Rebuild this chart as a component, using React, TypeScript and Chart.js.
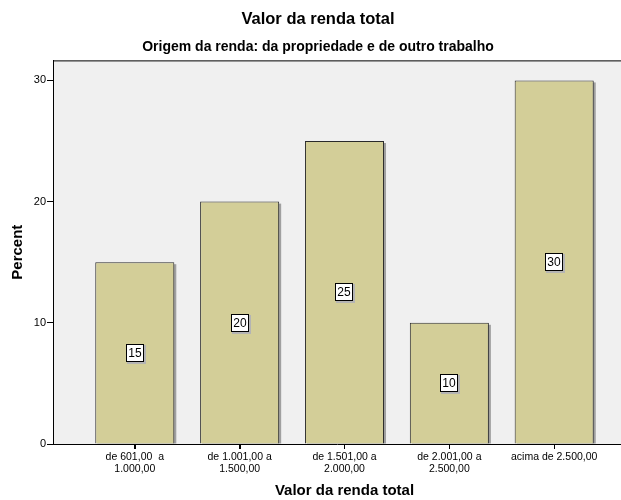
import React, { useEffect, useRef } from 'react';
import { Chart, registerables } from 'chart.js';

Chart.register(...registerables);

// Income brackets (two-line tick labels) and the share of respondents in each
const categories = [
  'de 601,00  a\n1.000,00',
  'de 1.001,00 a\n1.500,00',
  'de 1.501,00 a\n2.000,00',
  'de 2.001,00 a\n2.500,00',
  'acima de 2.500,00',
];
const percents = [15, 20, 25, 10, 30];
const yTicks = [0, 10, 20, 30];

const chartTitle = 'Valor da renda total';
const chartSubtitle = 'Origem da renda: da propriedade e de outro trabalho';
const xTitle = 'Valor da renda total';
const yTitle = 'Percent';

const FONT = "'Liberation Sans', Arial, Helvetica, sans-serif";
const BAR_FILL = '#d3ce98';
const BAR_EDGE = '#2a2a2a';
const PLOT_BG = '#f0f0f0';

// Grey plot background with a frame along the top edge
const plotFrame = {
  id: 'plotFrame',
  beforeDraw(chart: any) {
    const { ctx, chartArea: a } = chart;
    ctx.save();
    ctx.fillStyle = PLOT_BG;
    ctx.fillRect(a.left, a.top, a.right - a.left, a.bottom - a.top);
    ctx.strokeStyle = '#000';
    ctx.lineWidth = 1;
    ctx.beginPath();
    ctx.moveTo(a.left, a.top + 0.5);
    ctx.lineTo(a.right, a.top + 0.5);
    ctx.stroke();
    ctx.restore();
  },
};

// Soft drop shadow to the right of each bar
const barShadow = {
  id: 'barShadow',
  beforeDatasetsDraw(chart: any) {
    const { ctx } = chart;
    const meta = chart.getDatasetMeta(0);
    ctx.save();
    ctx.fillStyle = '#a0a0a0';
    meta.data.forEach((el: any) => {
      const { x, y, base, width } = el.getProps(['x', 'y', 'base', 'width'], true);
      const left = x - width / 2;
      ctx.fillRect(left + 2, y + 2, width, base - y - 2);
    });
    ctx.restore();
  },
};

// Category tick marks under the axis and the axis title centred on the category span
const xAxisDecor = {
  id: 'xAxisDecor',
  afterDraw(chart: any) {
    const { ctx } = chart;
    const xs = chart.scales.x;
    const a = chart.chartArea;
    ctx.save();
    ctx.strokeStyle = '#000';
    ctx.lineWidth = 1;
    ctx.beginPath();
    xs.ticks.forEach((t: any) => {
      const px = Math.round(xs.getPixelForValue(t.value)) + 0.5;
      ctx.moveTo(px, a.bottom);
      ctx.lineTo(px, a.bottom + 5);
    });
    ctx.stroke();
    ctx.font = `bold 15px ${FONT}`;
    ctx.fillStyle = '#000';
    ctx.textAlign = 'center';
    ctx.textBaseline = 'middle';
    const mid = xs.getPixelForValue((categories.length + 1) / 2);
    ctx.fillText(xTitle, mid, 491);
    ctx.restore();
  },
};

// Boxed value labels placed at half the bar height
const valueLabels = {
  id: 'valueLabels',
  afterDatasetsDraw(chart: any) {
    const { ctx } = chart;
    const yScale = chart.scales.y;
    const meta = chart.getDatasetMeta(0);
    ctx.save();
    ctx.font = `12px ${FONT}`;
    ctx.textAlign = 'center';
    ctx.textBaseline = 'middle';
    meta.data.forEach((el: any, i: number) => {
      const v = percents[i];
      const text = String(v);
      const cx = Math.round(el.x);
      const cy = Math.round(yScale.getPixelForValue(v / 2));
      const w = Math.round(ctx.measureText(text).width + 5);
      const h = 18;
      const left = cx - Math.round(w / 2);
      const top = cy - Math.round(h / 2);
      ctx.fillStyle = '#b4b4b4';
      ctx.fillRect(left + 1, top + 1, w + 1, h + 1);
      ctx.fillStyle = '#fff';
      ctx.fillRect(left, top, w, h);
      ctx.strokeStyle = '#000';
      ctx.lineWidth = 1;
      ctx.strokeRect(left + 0.5, top + 0.5, w - 1, h - 1);
      ctx.fillStyle = '#000';
      ctx.fillText(text, cx, cy + 1);
    });
    ctx.restore();
  },
};

export default function App() {
  const canvasRef = useRef<HTMLCanvasElement | null>(null);

  useEffect(() => {
    const canvas = canvasRef.current;
    if (!canvas) return;
    const chart = new Chart(canvas, {
      type: 'bar',
      data: {
        datasets: [
          {
            data: percents.map((v, i) => ({ x: i + 1, y: v })),
            backgroundColor: BAR_FILL,
            borderColor: BAR_EDGE,
            borderWidth: 1,
            categoryPercentage: 1,
            barPercentage: 0.754,
          },
        ],
      },
      options: {
        responsive: false,
        animation: false,
        devicePixelRatio: 1,
        layout: { padding: { left: 15, right: 0, top: 0, bottom: 0 } },
        plugins: {
          legend: { display: false },
          tooltip: { enabled: false },
          title: {
            display: true,
            text: chartTitle,
            color: '#000',
            font: { family: FONT, size: 16.5, weight: 'bold', lineHeight: 1.2 },
            padding: { top: 10, bottom: 0 },
          },
          subtitle: {
            display: true,
            text: chartSubtitle,
            color: '#000',
            font: { family: FONT, size: 14, weight: 'bold', lineHeight: 1.2 },
            padding: { top: 9.2, bottom: 4.6 },
          },
        },
        scales: {
          x: {
            type: 'linear',
            min: 0.22,
            max: 5.637,
            offset: false,
            afterBuildTicks: (s: any) => {
              s.ticks = categories.map((_, i) => ({ value: i + 1 }));
            },
            afterFit: (s: any) => {
              s.height = 56;
            },
            ticks: {
              callback: (v: any) => {
                const c = categories[Math.round(Number(v)) - 1];
                return c ? c.split('\n') : '';
              },
              font: { family: FONT, size: 10.5, lineHeight: 1.14 },
              color: '#000',
              padding: 2,
              maxRotation: 0,
              autoSkip: false,
            },
            grid: {
              offset: false,
              drawOnChartArea: false,
              drawTicks: true,
              tickLength: 5,
              color: '#000',
            },
            border: { display: true, color: '#000', width: 1 },
            title: { display: false },
          },
          y: {
            min: 0,
            max: 31.65,
            afterBuildTicks: (s: any) => {
              s.ticks = yTicks.map((v) => ({ value: v }));
            },
            afterFit: (s: any) => {
              s.width = 38;
            },
            ticks: {
              font: { family: FONT, size: 11 },
              color: '#000',
              padding: 1,
            },
            grid: { drawOnChartArea: false, drawTicks: true, tickLength: 6, color: '#000' },
            border: { display: true, color: '#000', width: 1 },
            title: {
              display: true,
              text: yTitle,
              color: '#000',
              font: { family: FONT, size: 15, weight: 'bold', lineHeight: 1 },
              padding: { top: -4.5, bottom: 0 },
            },
          },
        },
      },
      plugins: [plotFrame, barShadow, valueLabels, xAxisDecor],
    } as any);
    return () => chart.destroy();
  }, []);

  return (
    <div
      style={{
        position: 'absolute',
        left: 0,
        top: 0,
        width: 621,
        height: 500,
        overflow: 'hidden',
        background: '#fff',
      }}
    >
      <canvas ref={canvasRef} width={621} height={500} style={{ display: 'block' }} />
    </div>
  );
}
